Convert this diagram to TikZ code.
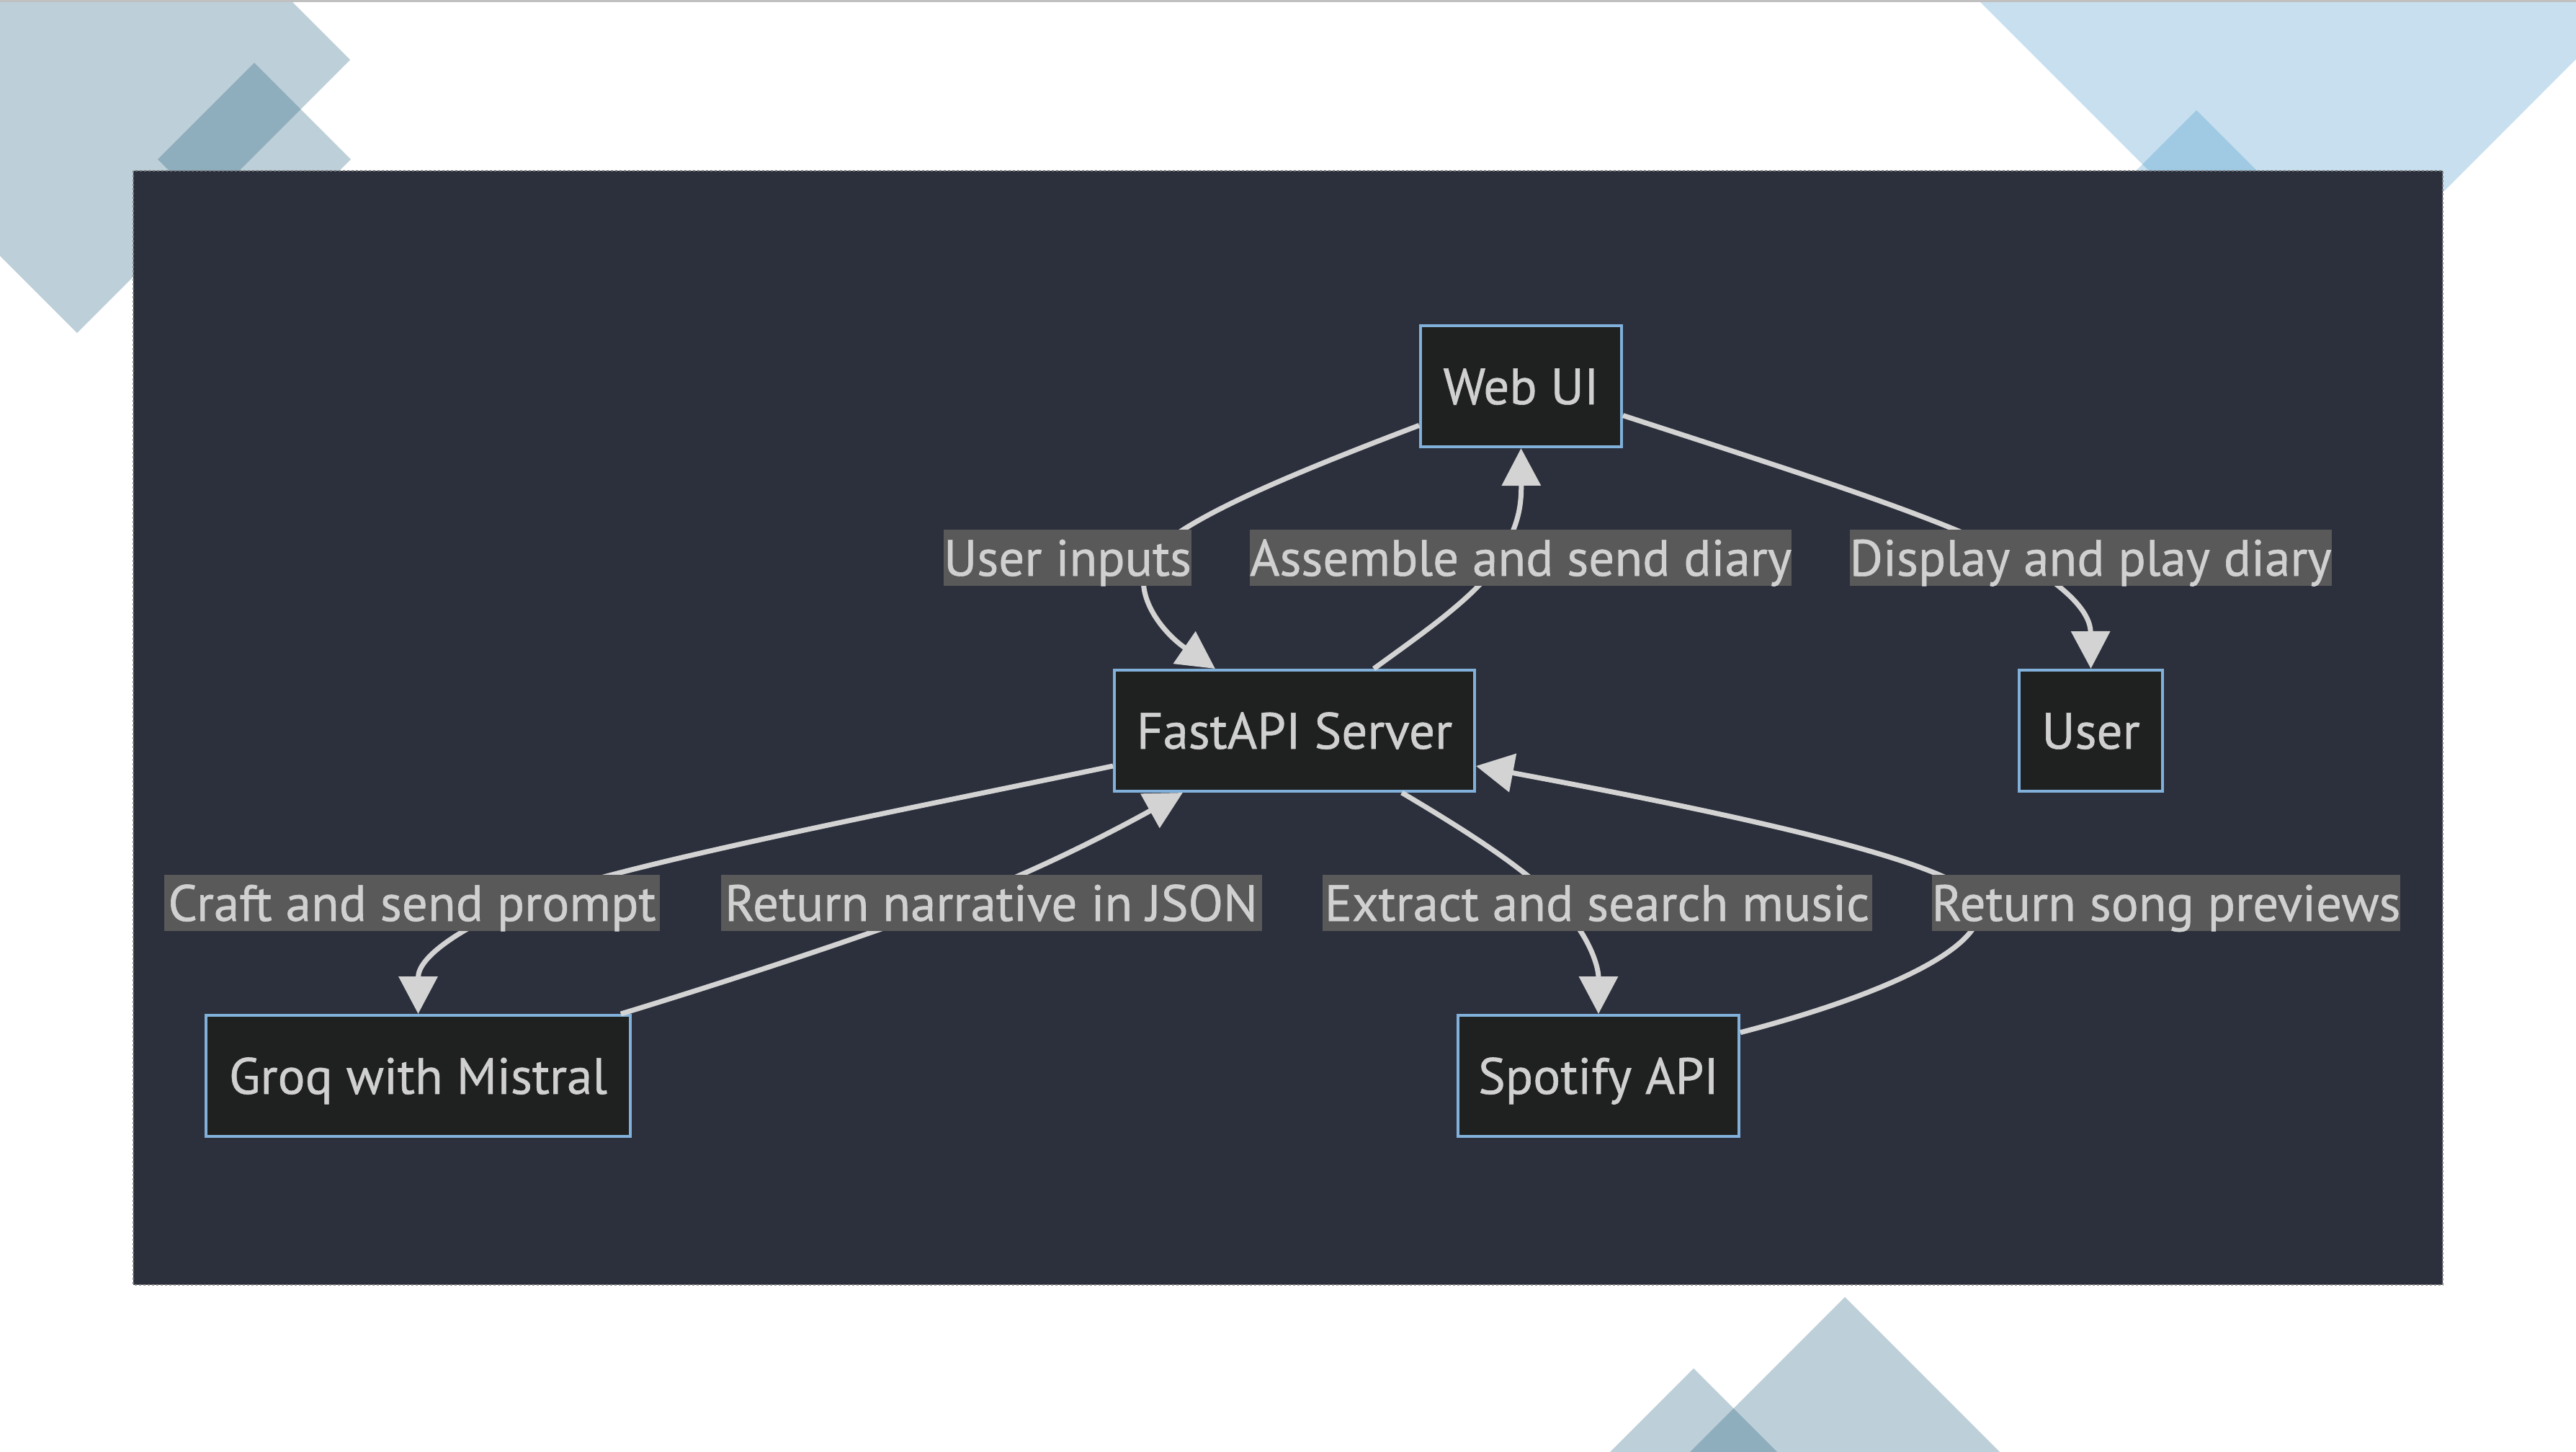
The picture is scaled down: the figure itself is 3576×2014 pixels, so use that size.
\documentclass[tikz,border=0pt]{standalone}
\usepackage{fontspec}
\setmainfont{PT Sans}[RawFeature={embolden=0.8}]
\usetikzlibrary{arrows.meta}
\definecolor{panelbg}{HTML}{2C303C}
\definecolor{nodefill}{HTML}{1F2020}
\definecolor{nodeline}{HTML}{81B1DB}
\definecolor{lblbg}{HTML}{595959}
\definecolor{txt}{HTML}{D0D0D0}
\definecolor{edgecol}{HTML}{D3D3D3}
\definecolor{decogray}{RGB}{38,98,128}
\definecolor{decoblue}{RGB}{72,152,202}
\definecolor{topline}{HTML}{C0C0C0}
\definecolor{panelborder}{HTML}{808080}
\begin{document}
\begin{tikzpicture}[x=1pt,y=-1pt,
  font=\fontsize{71pt}{84pt}\selectfont,
  box/.style={draw=nodeline, line width=4pt, fill=nodefill, text=txt,
    minimum height=168pt, inner sep=0pt, text height=50pt, text depth=0pt},
  lbl/.style={fill=lblbg, text=txt, minimum height=78pt, inner sep=0pt,
    text height=50pt, text depth=0pt},
  edge/.style={draw=edgecol, line width=7pt,
    -{Triangle[length=52pt,width=53pt]}},
  deco/.style={opacity=0.3}]
\useasboundingbox (0,0) rectangle (3576,2014);
\fill[white] (0,0) rectangle (3576,2014);
% decorative shapes
\begin{scope}
\clip (0,0) rectangle (3576,2014);
\fill[decogray, deco] (107,-296) -- (486,83) -- (107,462) -- (-272,83) -- cycle;
\fill[decogray, deco] (353,87) -- (487,221) -- (353,355) -- (219,221) -- cycle;
\fill[decoblue, deco] (3202,-456) -- (3658,0) -- (3202,456) -- (2746,0) -- cycle;
\fill[decoblue, deco] (3049,153) -- (3200,304) -- (3049,455) -- (2898,304) -- cycle;
\fill[decogray, deco] (2561,1800) -- (2781,2020) -- (2341,2020) -- cycle;
\fill[decogray, deco] (2351,1899) -- (2472,2020) -- (2230,2020) -- cycle;
\end{scope}
\fill[topline] (0,0) rectangle (3576,3);
% panel
\fill[panelbg] (185,237) rectangle (3391,1783);
\draw[panelborder, line width=1.5pt, dash pattern=on 3pt off 3pt] (185,237) rectangle (3391,1783);
% nodes
\node[box, minimum width=279pt] (webui) at (2111.5,536) {Web UI};
\node[box, minimum width=500pt] (fastapi) at (1797,1014) {FastAPI Server};
\node[box, minimum width=199pt] (user) at (2902.5,1014) {User};
\node[box, minimum width=589pt] (groq) at (580.5,1493) {Groq with Mistral};
\node[box, minimum width=390pt] (spotify) at (2219,1493) {Spotify API};
% edges
\draw[edge] (webui.201) .. controls (1800,655) and (1640,720) .. (1600,770)
  .. controls (1565,815) and (1610,875) .. (fastapi.142);
\draw[edge] (fastapi.38) .. controls (1980,875) and (2060,820) .. (2085,770)
  .. controls (2105,730) and (2112,710) .. (webui.south);
\draw[edge] (webui.-16) .. controls (2500,657) and (2700,720) .. (2800,775)
  .. controls (2870,815) and (2902,850) .. (user.north);
\draw[edge] (fastapi.191) .. controls (1250,1125) and (830,1205) .. (710,1258)
  .. controls (630,1294) and (580.5,1330) .. (groq.north);
\draw[edge] (groq.17) .. controls (1000,1365) and (1200,1300) .. (1330,1250)
  .. controls (1460,1200) and (1570,1140) .. (fastapi.209);
\draw[edge] (fastapi.-30) .. controls (2030,1150) and (2110,1200) .. (2160,1250)
  .. controls (2205,1295) and (2219,1340) .. (spotify.north);
\draw[edge] (spotify.17) .. controls (2620,1380) and (2770,1310) .. (2745,1250)
  .. controls (2720,1190) and (2300,1110) .. (fastapi.-11);
% edge labels
\node[lbl, minimum width=342pt] (l1) at (1482,774) {User inputs};
\node[lbl, minimum width=748pt] (l2) at (2111,774) {Assemble and send diary};
\node[lbl, minimum width=666pt] (l3) at (2902,774) {Display and play diary};
\node[lbl, minimum width=688pt] (l4) at (572,1253) {Craft and send prompt};
\node[lbl, minimum width=751pt] (l5) at (1376,1253) {Return narrative in JSON};
\node[lbl, minimum width=763pt] (l6) at (2217,1253) {Extract and search music};
\node[lbl, minimum width=646pt] (l7) at (3007,1253) {Return song previews};
\end{tikzpicture}
\end{document}
